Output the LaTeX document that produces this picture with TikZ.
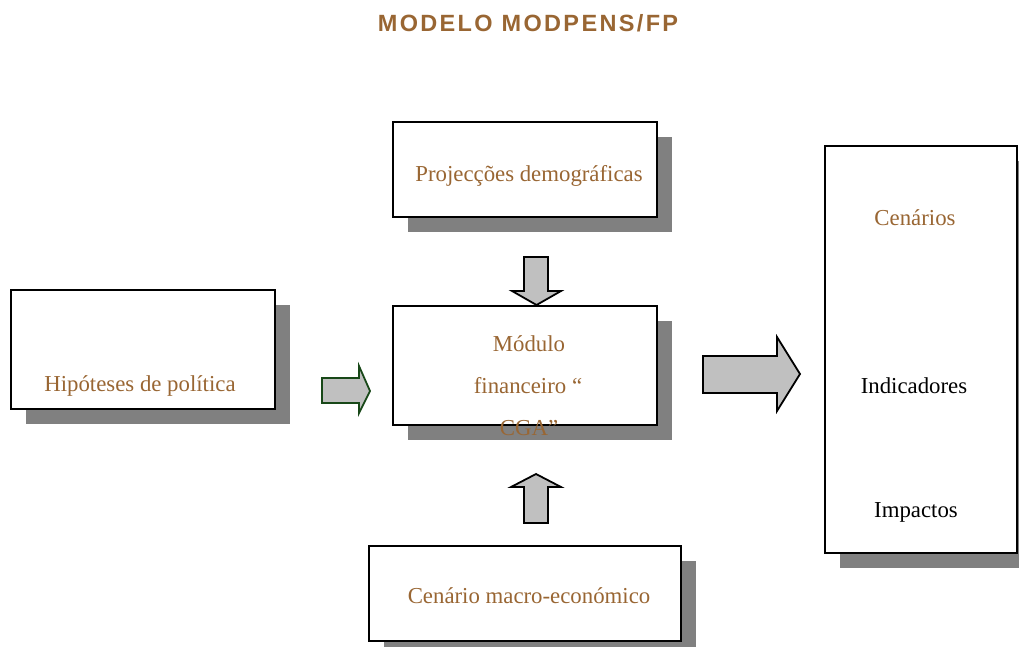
\documentclass[tikz,border=0pt]{standalone}
\usepackage{fontspec}
\setmainfont{Liberation Serif}
\newfontfamily\titlefont[LetterSpace=10]{Liberation Sans}
\definecolor{brownish}{RGB}{153,102,51}
\definecolor{shadowgray}{RGB}{128,128,128}
\definecolor{arrowgray}{RGB}{192,192,192}
\definecolor{darkgreen}{RGB}{24,72,24}
\begin{document}
\begin{tikzpicture}[x=1pt,y=-1pt,
  box/.style={draw=black,line width=1.8pt,fill=white,anchor=north west,inner sep=0pt},
  blockarrow/.style={draw=black,line width=1.8pt,fill=arrowgray,line join=miter},
  brtext/.style={text=brownish,font=\fontsize{22.8}{27}\selectfont},
  bktext/.style={text=black,font=\fontsize{22.8}{27}\selectfont}]
\useasboundingbox (0,0) rectangle (1019,647);

% title
\node[text=brownish,font=\titlefont\bfseries\fontsize{23.5}{28}\selectfont] (title) at (528,23) {MODELO MODPENS/FP};

% drop shadows
\fill[shadowgray] (408,137) rectangle (672,232);
\fill[shadowgray] (26,305) rectangle (290,424);
\fill[shadowgray] (408,321) rectangle (672,440);
\fill[shadowgray] (384,561) rectangle (696,660);
\fill[shadowgray] (840,161) rectangle (1030,568);

% boxes
\node[box,minimum width=264pt,minimum height=95pt] (proj) at (392,121) {};
\node[box,minimum width=264pt,minimum height=119pt] (hip) at (10,289) {};
\node[box,minimum width=264pt,minimum height=119pt] (mod) at (392,305) {};
\node[box,minimum width=312pt,minimum height=95pt] (macro) at (368,545) {};
\node[box,minimum width=192pt,minimum height=407pt] (cen) at (824,145) {};

% block arrows
\draw[blockarrow] (524,257) -- (548,257) -- (548,291) -- (561,291) -- (536.5,305)
  -- (512,291) -- (524,291) -- cycle;
\draw[blockarrow] (524,523) -- (548,523) -- (548,487) -- (561,487) -- (536,474)
  -- (511,487) -- (524,487) -- cycle;
\draw[blockarrow,draw=darkgreen] (322,378) -- (359,378) -- (359,366) -- (370,391)
  -- (359,413) -- (359,403) -- (322,403) -- cycle;
\draw[blockarrow] (703,356) -- (777,356) -- (777,337) -- (800,374)
  -- (777,411) -- (777,393) -- (703,393) -- cycle;

% labels
\node[brtext] (tproj) at (529,176) {Projecções demográficas};
\node[brtext] (thip) at (140,386) {Hipóteses de política};
\node[brtext] (tmod1) at (529,344) {Módulo};
\node[brtext] (tmod2) at (528,386) {financeiro “};
\node[brtext] (tmod3) at (529,428) {CGA”};
\node[brtext] (tmacro) at (529,596) {Cenário macro-económico};
\node[brtext] (tcen) at (915,218) {Cenários};
\node[bktext] (tind) at (914,386) {Indicadores};
\node[bktext] (timp) at (916,512) {Impactos};
\end{tikzpicture}
\end{document}
